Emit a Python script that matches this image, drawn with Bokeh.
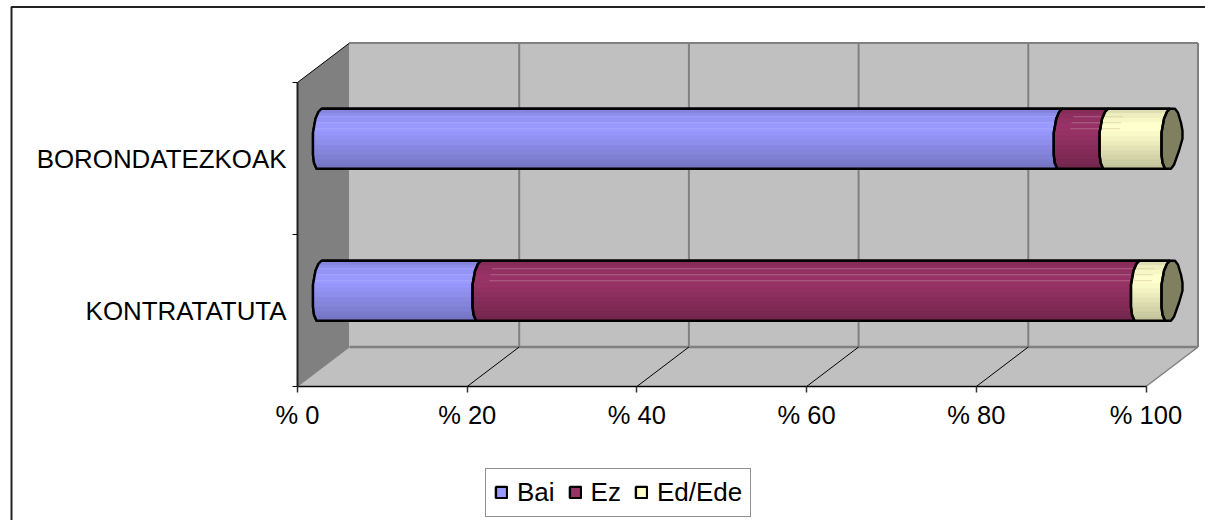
from bokeh.plotting import figure
from bokeh.models import LinearAxis, FixedTicker, Legend, LegendItem, Range1d
from bokeh.embed import file_html
from bokeh.resources import INLINE

categories = ["KONTRATATUTA", "BOROND" + "ATEZKOAK"]
series_names = ["Bai", "Ez", "Ed/Ede"]
bai = [18.8, 87.3]
ez = [77.6, 5.4]
ed = [3.6, 7.3]
x_ticks = [0, 20, 40, 60, 80, 100]
x_labels = ["% 0", "% 20", "% 40", "% 60", "% 80", "% 100"]
series_colors = ["#9999ff", "#993366", "#ffffcc"]
highlight_colors = ["#a9a9ff", "#b5708f", "#d9d2a2"]
band_shades = [0.87, 0.93, 0.97, 1.0, 1.0, 0.98, 0.95, 0.92, 0.89, 0.86, 0.83, 0.80, 0.76]

W, H = 1205, 520
X0, PXX = 297.0, 8.485      # pixel of x=0 on the front plane, px per %
Y0, PXY = 386.0, 152.0      # pixel of y=0 on the front plane, px per category
DX, DY = 52.0 / PXX, 39.5 / PXY   # depth in data units
FONT = "Liberation Sans"
FS = "25.5px"
BAR_H = 60.0
OUTLINE = 2.4

def dx(px): return px / PXX
def dy(px): return px / PXY
def X(px): return (px - X0) / PXX
def Y(px): return (Y0 - px) / PXY

p = figure(width=W, height=H, output_backend="svg", toolbar_location=None,
           x_range=Range1d(X(0), X(W)), y_range=Range1d(Y(H), Y(0)),
           min_border=0, min_border_left=0, min_border_right=0,
           min_border_top=0, min_border_bottom=0, outline_line_color=None,
           x_axis_type=None, y_axis_type=None)
p.grid.visible = False

xmax, ymax = x_ticks[-1], len(categories)

# outer chart border
p.line([X(11), X(11), X(W)], [Y(H), Y(6.5), Y(6.5)], line_color="#222222", line_width=2)

# walls and floor
p.patch([0, DX, DX, 0], [0, DY, ymax + DY, ymax], fill_color="#808080", line_color=None)
p.patch([DX, xmax + DX, xmax + DX, DX], [DY, DY, ymax + DY, ymax + DY], fill_color="#c0c0c0", line_color=None)
p.patch([0, xmax, xmax + DX, DX], [0, 0, DY, DY], fill_color="#c0c0c0", line_color=None)

# gridlines on the back wall
for t in x_ticks[1:]:
    p.line([t + DX, t + DX], [DY, ymax + DY], line_color="#808080", line_width=2)
p.line([DX, xmax + DX], [ymax + DY, ymax + DY], line_color="#808080", line_width=2)
p.line([DX, xmax + DX], [DY, DY], line_color="#808080", line_width=2.5)
# lines across the floor and the wall top
for t in x_ticks[1:-1]:
    p.line([t, t + DX], [0, DY], line_color="#000000", line_width=1)
p.line([xmax, xmax + DX], [0, DY], line_color="#808080", line_width=1.5)
p.line([0, DX], [0, DY], line_color="#808080", line_width=1)
p.line([0, DX], [ymax, ymax + DY], line_color="#000000", line_width=1)

# profile of a bar's cross-section (px from cross-section centre, px below bar top)
left_prof = [(-2, 0), (-5, 3), (-8, 10), (-10.5, 24), (-10.5, 46), (-9.5, 54), (-7, 60)]
right_prof = [(3, 0), (6, 4), (9, 14), (10.5, 22), (10.5, 30), (7, 42), (2, 56), (-1, 60), (-7, 60)]

def lerp_prof(prof, yy):
    for (a, b), (c, d) in zip(prof, prof[1:]):
        if b <= yy <= d and d > b:
            return a + (c - a) * (yy - b) / (d - b)
    return prof[-1][0]

def shade(hexc, f):
    r, g, b = [int(hexc[i:i + 2], 16) for i in (1, 3, 5)]
    return "#%02x%02x%02x" % (round(r * f), round(g * f), round(b * f))

mid_dx, mid_dy = DX / 2, DY / 2

def bar_top(cat):
    return cat + 0.5 + mid_dy + dy(BAR_H / 2)

def seg_outline(cat, a, b):
    top = bar_top(cat)
    xs = [a + mid_dx + dx(u) for u, _ in left_prof] + [b + mid_dx + dx(u) for u, _ in reversed(left_prof)]
    ys = [top - dy(v) for _, v in left_prof] + [top - dy(v) for _, v in reversed(left_prof)]
    return xs, ys

cols = [bai, ez, ed]
segments = []
for c in range(len(categories)):
    start = 0.0
    row = []
    for s in range(3):
        row.append((s, start, start + cols[s][c]))
        start += cols[s][c]
    segments.append(row)

legend_items = []
outlines_x, outlines_y = [], []
for s in range(3):
    xs, ys = [], []
    for c, row in enumerate(segments):
        _, a, b = row[s]
        ox, oy = seg_outline(c, a, b)
        xs.append(ox)
        ys.append(oy)
        outlines_x.append(ox + ox[:1])
        outlines_y.append(oy + oy[:1])
    r = p.patches(xs, ys, fill_color=series_colors[s], line_color="#000000", line_width=2.4)
    legend_items.append(LegendItem(label=series_names[s], renderers=[r]))

# gradient bands across each segment
nb = len(band_shades)
for c, row in enumerate(segments):
    top = bar_top(c)
    for s, a, b in row:
        bx, by, bc = [], [], []
        for i, f in enumerate(band_shades):
            v0, v1 = BAR_H * i / nb, BAR_H * (i + 1) / nb
            l0, l1 = lerp_prof(left_prof, v0), lerp_prof(left_prof, v1)
            bx.append([a + mid_dx + dx(l0), b + mid_dx + dx(l0), b + mid_dx + dx(l1), a + mid_dx + dx(l1)])
            by.append([top - dy(v0), top - dy(v0), top - dy(v1), top - dy(v1)])
            bc.append(shade(series_colors[s], f))
        p.patches(bx, by, fill_color=bc, line_color=bc, line_width=0.5)
        # faint highlight streaks near the top of the bar
        for v in (8, 14, 20):
            lx = lerp_prof(left_prof, v)
            x0 = a + mid_dx + dx(lx + (0 if s != 1 else 16))
            x1 = b + mid_dx + dx(lx) if s != 2 else min(a + mid_dx + dx(lx + 20), b + mid_dx + dx(lx))
            p.line([x0, x1], [top - dy(v)] * 2, line_color=highlight_colors[s], line_width=1, line_alpha=0.8)

# end caps
capx, capy = [], []
for c in range(len(categories)):
    top = bar_top(c)
    total = xmax + mid_dx
    prof = left_prof + list(reversed(right_prof))
    capx.append([total + dx(u) for u, _ in prof])
    capy.append([top - dy(v) for _, v in prof])
p.patches(capx, capy, fill_color="#808060", line_color="#000000", line_width=OUTLINE, line_join="round")
p.multi_line(outlines_x, outlines_y, line_color="#000000", line_width=OUTLINE, line_join="round")

# axes
xa = LinearAxis(fixed_location=0, ticker=FixedTicker(ticks=x_ticks), bounds=(0, xmax),
                major_label_overrides=dict(zip(x_ticks, x_labels)))
xa.axis_line_color = "#000000"
xa.axis_line_width = 1.5
xa.major_tick_line_color = "#333333"
xa.major_tick_line_width = 1.5
xa.major_tick_out = 6
xa.major_tick_in = 0
xa.minor_tick_line_color = None
xa.major_label_standoff = 8
xa.major_label_text_font = FONT
xa.major_label_text_font_size = FS
xa.major_label_text_color = "#000000"
p.add_layout(xa, "below")

ya = LinearAxis(fixed_location=0, ticker=FixedTicker(ticks=list(range(ymax + 1))), bounds=(0, ymax),
                major_label_overrides={i: "" for i in range(ymax + 1)})
ya.axis_line_color = "#222222"
ya.axis_line_width = 2
ya.major_tick_line_color = "#000000"
ya.major_tick_out = 5
ya.major_tick_in = 0
ya.minor_tick_line_color = None
p.add_layout(ya, "left")

cat_ticks = [i + 0.5 for i in range(len(categories))]
yl = LinearAxis(fixed_location=0, ticker=FixedTicker(ticks=cat_ticks),
                major_label_overrides=dict(zip(cat_ticks, categories)))
yl.axis_line_color = None
yl.major_tick_line_color = None
yl.minor_tick_line_color = None
yl.major_tick_out = 0
yl.major_tick_in = 0
yl.major_label_standoff = 11
yl.major_label_text_font = FONT
yl.major_label_text_font_size = "25.9px"
yl.major_label_text_color = "#000000"
p.add_layout(yl, "left")

legend = Legend(items=legend_items, orientation="horizontal", location=(485, 3.5),
                margin=0, padding=8, spacing=13, label_standoff=9,
                glyph_width=14, glyph_height=14, label_height=26,
                label_text_font=FONT, label_text_font_size="26px", label_text_color="#000000",
                border_line_color="#222222", border_line_width=1.5,
                background_fill_color="#ffffff", background_fill_alpha=1)
p.add_layout(legend, "center")

open("out.html", "w").write(file_html(p, INLINE))
